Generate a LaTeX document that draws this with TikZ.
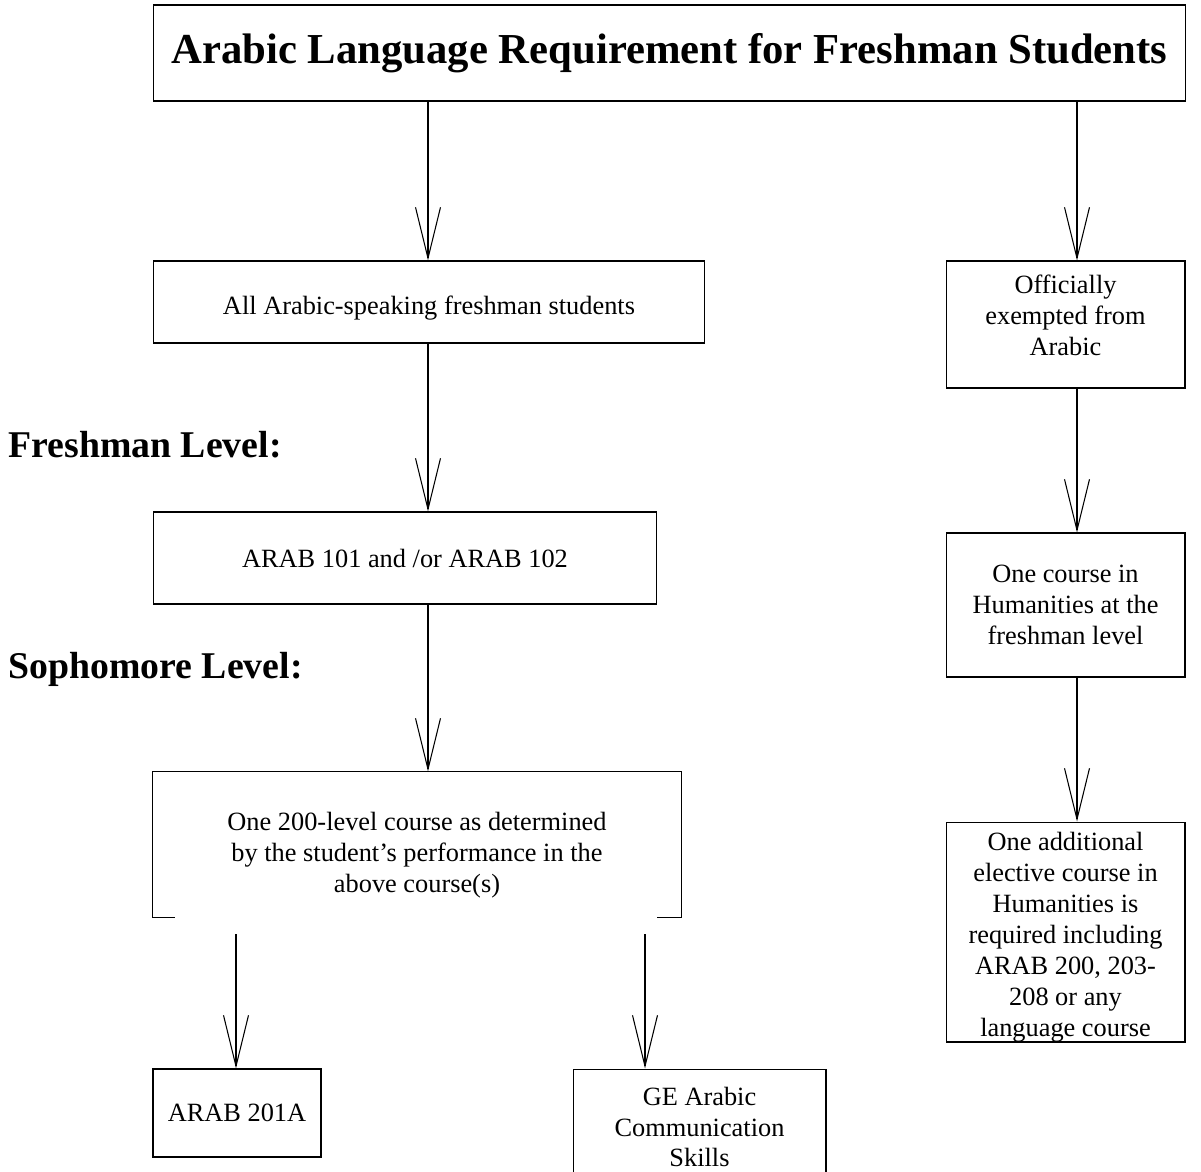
\documentclass[tikz,border=0pt]{standalone}
\usepackage{fontspec}
\setmainfont{Liberation Serif}
\usetikzlibrary{positioning, calc, arrows.meta}

\begin{document}
\begin{tikzpicture}[
				x=0.02cm, y=-0.02cm,
				line width=0.6pt,
				>={Straight Barb[length=1.02cm, width=0.5cm]}
			]
			\tikzstyle{Text} = [ %text set in the boxes
				align=center,
				inner sep=2pt,
				font=\fontsize{15}{17.6}\selectfont
			]
			\tikzstyle{Box} = [
				draw=black,
				Text
			]
			\tikzstyle{Level} = [
				anchor=west,
				inner sep=0pt,
				font=\fontsize{21.5}{25}\selectfont\bfseries
			]
			\useasboundingbox (0,0) rectangle (1201,1171);
			\clip (0,0) rectangle (1201,1171);

			\node (title) [Box, minimum width=20.66cm, minimum height=1.92cm, font=\fontsize{24.3}{29}\selectfont\bfseries] at (669.5,53) {Arabic Language Requirement for Freshman Students};

			% left column
			\node (all) [Box, minimum width=11.04cm, minimum height=1.64cm, label={[Text, yshift=-0.12cm]center:All Arabic-speaking freshman students}] at (429,302) {};
			\node (arab) [Box, minimum width=10.08cm, minimum height=1.84cm] at (405,558) {ARAB 101 and /or ARAB 102};
			\node (sel) [Box, draw=none, minimum width=10.56cm, minimum height=2.9cm, label={[Text, yshift=-0.21cm]center:{One 200-level course as determined\\by the student’s performance in the\\above course(s)}}] at (417,844.5) {};
			\node (a201) [Box, minimum width=3.36cm, minimum height=1.76cm] at (237,1113) {ARAB 201A};
			\node (ge) [Box, minimum width=5.06cm, minimum height=2.32cm] at (699.5,1127) {GE Arabic\\Communication\\Skills};

			% right column
			\node (off) [Box, minimum width=4.78cm, minimum height=2.54cm, label={[Text, yshift=0.18cm]center:{Officially\\exempted from\\Arabic}}] at (1065.5,324.5) {};
			\node (hum) [Box, minimum width=4.78cm, minimum height=2.88cm] at (1065.5,605) {One course in\\Humanities at the\\freshman level};
			\node (add) [Box, minimum width=4.78cm, minimum height=4.4cm, label={[Text, yshift=-0.1cm]center:{One additional\\elective course in\\Humanities is\\required including\\ARAB 200, 203-\\208 or any\\language course}}] at (1065.5,932) {};

			\node (fresh) [Level] at (8,445) {Freshman Level:};
			\node (soph) [Level] at (8,669) {Sophomore Level:};

			% open bottom of the 200-level box
			\draw ($(sel.south west)+(22,0)$) -- (sel.south west) -- (sel.north west) -- (sel.north east) -- (sel.south east) -- ($(sel.south east)+(-24,0)$);

			\coordinate (lx) at (428,0);
			\coordinate (rx) at (1077,0);
			\coordinate (s1) at (236,934);
			\coordinate (s2) at (645,934);
			\draw[->] (title.south -| lx) -- (all.north -| lx);
			\draw[->] (all.south -| lx) -- (arab.north -| lx);
			\draw[->] (arab.south -| lx) -- (sel.north -| lx);
			\draw[->] (s1) -- (s1 |- a201.north);
			\draw[->] (s2) -- (s2 |- ge.north);
			\draw[->] (title.south -| rx) -- (off.north -| rx);
			\draw[->] (off.south -| rx) -- (hum.north -| rx);
			\draw[->] (hum.south -| rx) -- (add.north -| rx);
		\end{tikzpicture}
\end{document}
